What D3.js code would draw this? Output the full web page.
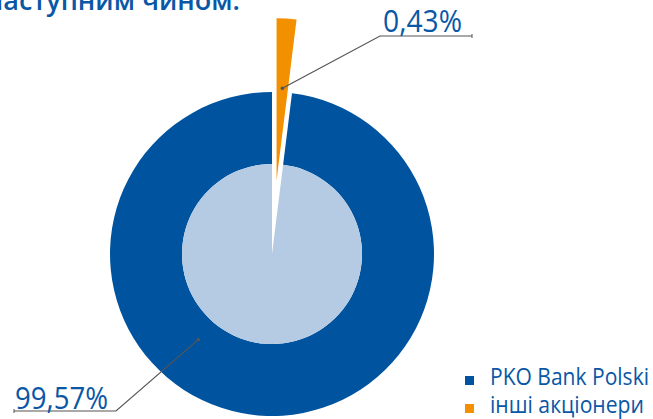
<!DOCTYPE html>
<html>
<head>
<meta charset="utf-8">
<script src="https://cdn.jsdelivr.net/npm/d3@7"></script>
<style>
  body { margin: 0; background: #fff; }
  svg { display: block; font-family: "Open Sans", sans-serif; }
</style>
</head>
<body>
<div class="chart"></div>
<script>
// frame
let FRAME_WIDTH = 653;
let FRAME_HEIGHT = 419;

// data
const categories = ["PKO Bank Polski", "інші акціонери"];
const shares = [99.57, 0.43];
const labels = ["99,57%", "0,43%"];
const colors = ["#00539f", "#f39000"];
const innerColors = ["#b5cbe3", "#f39000"];
const title = "наступним чином:";

// tiny slices get a minimum visible share in the drawing
const MIN_SHARE = 2;

const CX = 272, CY = 254;
const R_OUT = 162, R_IN = 90;
const EXPLODE = 74;

let SVG = d3.select(".chart")
            .append("svg")
            .attr("width", FRAME_WIDTH)
            .attr("height", FRAME_HEIGHT);

// order: small slice first, starting at 12 o'clock
let order = [1, 0];
let pieData = d3.pie()
                .sort(null)
                .value((i) => {return Math.max(shares[i], MIN_SHARE)})(order);

let outerArc = d3.arc().innerRadius(R_IN).outerRadius(R_OUT);
let innerArc = d3.arc().innerRadius(0).outerRadius(R_IN);
let fullArc = d3.arc().innerRadius(0).outerRadius(R_OUT);

let PIE = SVG.append("g")
             .attr("transform", "translate(" + CX + "," + CY + ")");

pieData.forEach((d) => {
    let i = d.data;
    if (i == 1) {
        // exploded slice
        let mid = (d.startAngle + d.endAngle) / 2;
        let g = PIE.append("g")
                   .attr("transform", "translate(" + (Math.sin(mid) * EXPLODE) + "," +
                         (-Math.cos(mid) * EXPLODE) + ")");
        g.append("path").attr("d", fullArc(d)).attr("fill", colors[i]);
    } else {
        PIE.append("path").attr("d", outerArc(d)).attr("fill", colors[i]);
        PIE.append("path").attr("d", innerArc(d)).attr("fill", innerColors[i]);
    }
});

// label leader lines
const LABEL_COLOR = "#0a57a6";
const LINE_COLOR = "#555";
// [slice index, anchor angle (deg), anchor radius, elbow x, elbow y, line end x, side]
const labelPos = [
    {i: 0, ang: 220.7, r: 113, ex: 116, ey: 411, lx: 14},
    {i: 1, ang: 3.6, r: 92, ex: 380, ey: 36, lx: 472}
];

labelPos.forEach((p) => {
    let a = p.ang * Math.PI / 180;
    let off = (p.i == 1) ? EXPLODE : 0;
    let ax = CX + Math.sin(a) * (p.r + off);
    let ay = CY - Math.cos(a) * (p.r + off);
    SVG.append("polyline")
       .attr("points", ax + "," + ay + " " + p.ex + "," + p.ey + " " + p.lx + "," + p.ey)
       .attr("fill", "none")
       .attr("stroke", LINE_COLOR)
       .attr("stroke-width", 1.2);
    SVG.append("circle").attr("cx", ax).attr("cy", ay).attr("r", 1.8).attr("fill", LINE_COLOR);
    SVG.append("line")
       .attr("x1", p.lx).attr("x2", p.lx)
       .attr("y1", p.ey - 2).attr("y2", p.ey + 2)
       .attr("stroke", LINE_COLOR);
});

SVG.append("text")
   .attr("x", 15).attr("y", 409)
   .attr("font-size", 31)
   .attr("fill", LABEL_COLOR)
   .attr("textLength", 93)
   .attr("lengthAdjust", "spacingAndGlyphs")
   .text(labels[0]);

SVG.append("text")
   .attr("x", 383).attr("y", 32)
   .attr("font-size", 31)
   .attr("fill", LABEL_COLOR)
   .attr("textLength", 79)
   .attr("lengthAdjust", "spacingAndGlyphs")
   .text(labels[1]);

// title, partly cut off at the top left
SVG.append("text")
   .attr("x", 240).attr("y", 10)
   .attr("text-anchor", "end")
   .attr("font-size", 27)
   .attr("font-weight", 600)
   .attr("fill", LABEL_COLOR)
   .text(title);

// legend
const legendW = [159, 154];
categories.forEach((c, i) => {
    let y = 385 + i * 28;
    SVG.append("rect")
       .attr("x", 465).attr("y", y - 9)
       .attr("width", 9).attr("height", 9)
       .attr("fill", colors[i]);
    SVG.append("text")
       .attr("x", 490).attr("y", y)
       .attr("font-size", 24)
       .attr("fill", LABEL_COLOR)
       .attr("textLength", legendW[i])
       .attr("lengthAdjust", "spacingAndGlyphs")
       .text(c);
});
</script>
</body>
</html>
